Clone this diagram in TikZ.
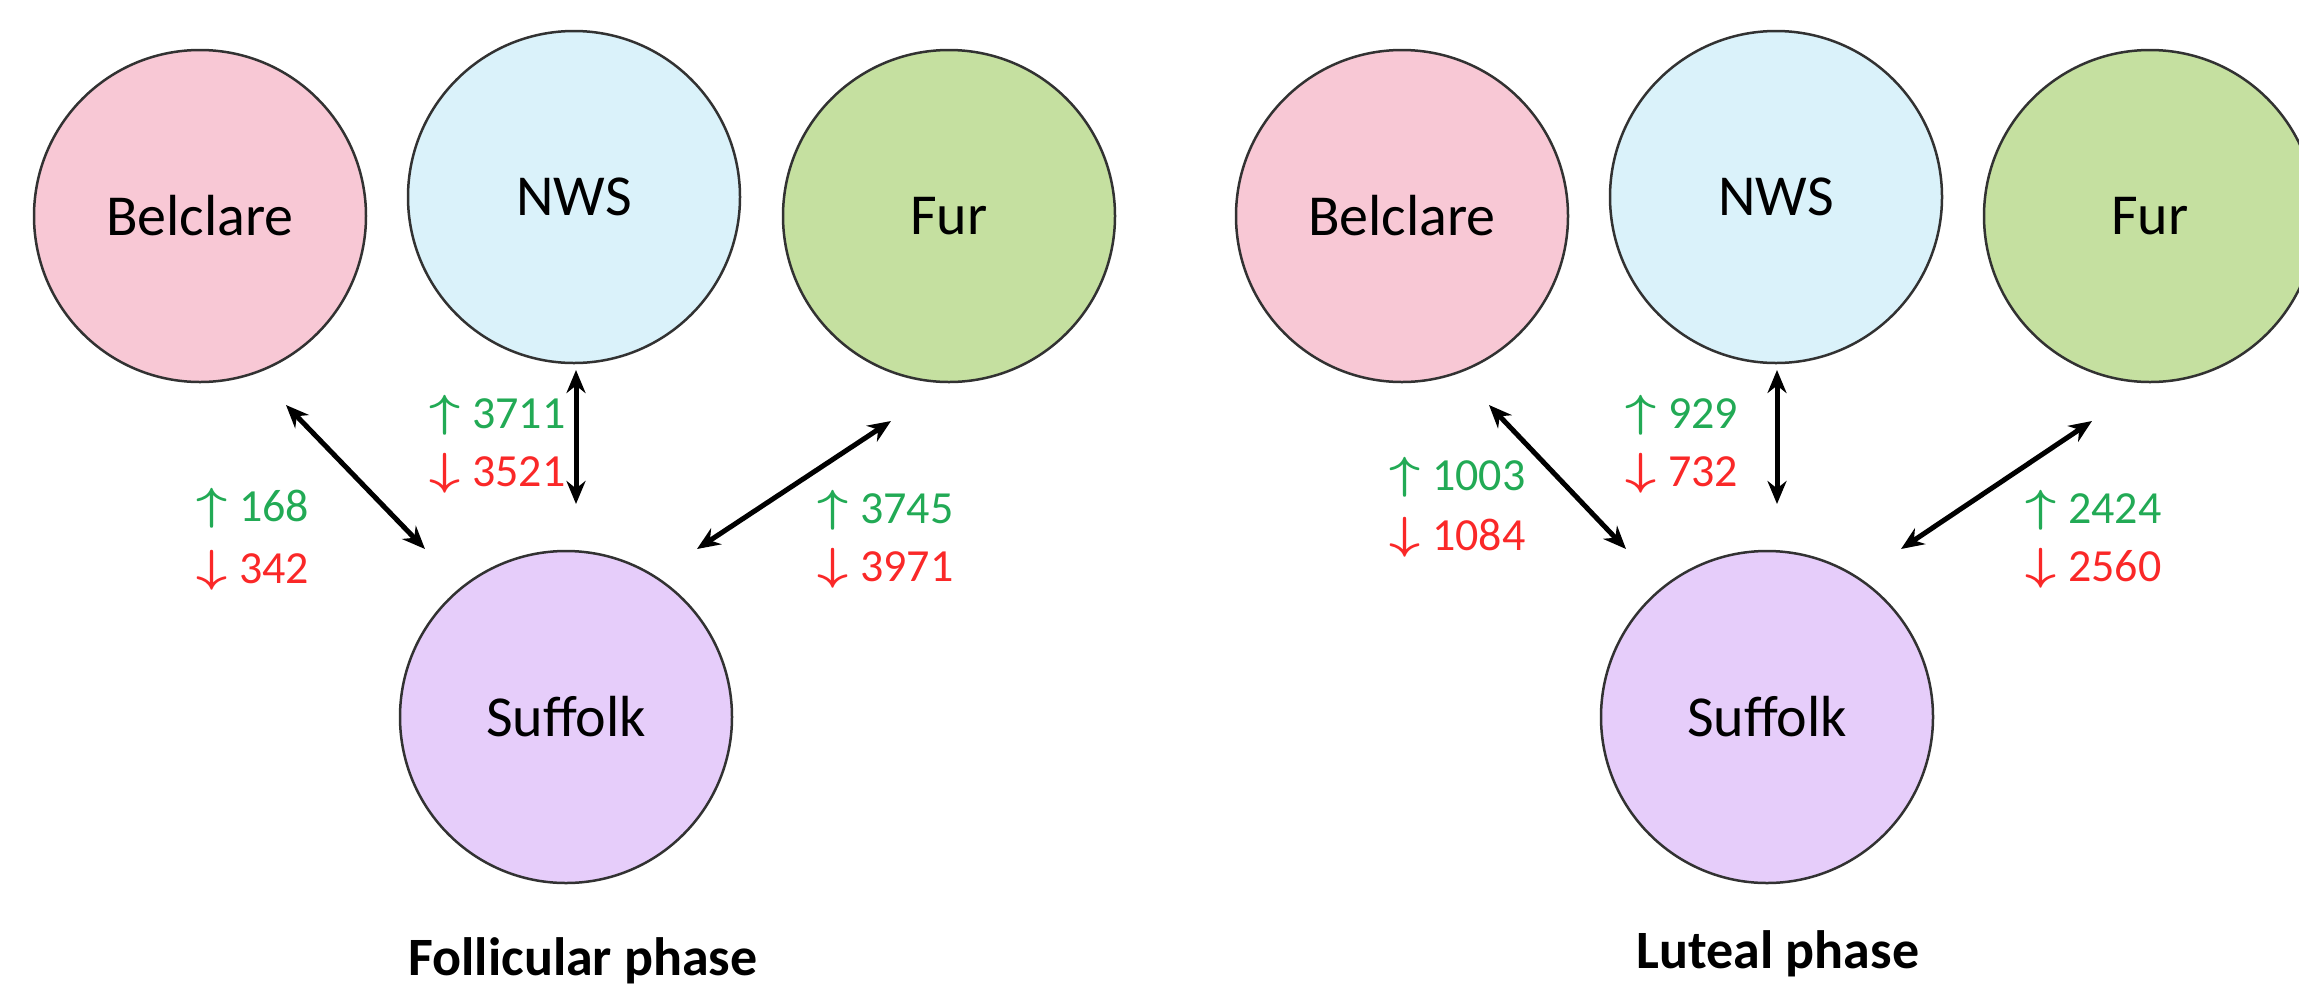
\documentclass[tikz,border=0pt]{standalone}
\usepackage{fontspec}
\setmainfont{Carlito}
\usetikzlibrary{arrows.meta}

\definecolor{belpink}{RGB}{248,200,213}
\definecolor{nwsblue}{RGB}{218,242,250}
\definecolor{furgreen}{RGB}{197,224,160}
\definecolor{sufpurple}{RGB}{230,205,250}
\definecolor{upgreen}{RGB}{34,170,85}
\definecolor{downred}{RGB}{250,40,40}
\definecolor{rim}{RGB}{50,50,50}

\tikzset{
  breed/.style={circle, draw=rim, line width=2.5pt, minimum size=332pt,
    inner sep=0pt, font=\fontsize{58}{60}\selectfont},
  link/.style={line width=5pt, {Stealth[length=23pt,width=19pt]}-{Stealth[length=23pt,width=19pt]}},
  uplab/.style={anchor=west, inner sep=0pt, text=upgreen, font=\fontsize{46}{48}\selectfont},
  downlab/.style={anchor=west, inner sep=0pt, text=downred, font=\fontsize{46}{48}\selectfont},
  phase/.style={anchor=base, inner sep=0pt, font=\fontsize{54}{56}\selectfont\bfseries}
}
% open-headed arrows in front of the counts
\newcommand{\upmark}{\raisebox{2pt}{\resizebox*{31pt}{40pt}{\normalsize\boldmath$\uparrow$}}\hspace{12pt}}
\newcommand{\downmark}{\raisebox{2pt}{\resizebox*{31pt}{40pt}{\normalsize\boldmath$\downarrow$}}\hspace{12pt}}

\begin{document}
\begin{tikzpicture}[x=1pt,y=-1pt]
\useasboundingbox (0,0) rectangle (2299,989);
\begin{scope}
\clip (0,0) rectangle (2299,989);

% ---------- Follicular phase ----------
\node[breed, fill=belpink]   (fbel) at (200,216) {Belclare};
\node[breed, fill=nwsblue]   (fnws) at (574,197) {NWS};
\node[breed, fill=furgreen]  (ffur) at (949,216) {Fur};
\node[breed, fill=sufpurple] (fsuf) at (566,717) {Suffolk};

\coordinate (fa1) at (286,405);  \coordinate (fa2) at (425,549);
\coordinate (fb1) at (576,370);  \coordinate (fb2) at (576,504);
\coordinate (fc1) at (891,421);  \coordinate (fc2) at (697,549);
\draw[link] (fa1) -- (fa2);
\draw[link] (fb1) -- (fb2);
\draw[link] (fc1) -- (fc2);

\node[uplab]   (fu1) at (429,415) {\upmark 3711};
\node[downlab] (fd1) at (429,473) {\downmark 3521};
\node[uplab]   (fu2) at (196,508) {\upmark 168};
\node[downlab] (fd2) at (196,570) {\downmark 342};
\node[uplab]   (fu3) at (817,510) {\upmark 3745};
\node[downlab] (fd3) at (817,568) {\downmark 3971};

\node[phase] (fphase) at (583,975) {Follicular phase};

% ---------- Luteal phase ----------
\node[breed, fill=belpink]   (lbel) at (1402,216) {Belclare};
\node[breed, fill=nwsblue]   (lnws) at (1776,197) {NWS};
\node[breed, fill=furgreen]  (lfur) at (2150,216) {Fur};
\node[breed, fill=sufpurple] (lsuf) at (1767,717) {Suffolk};

\coordinate (la1) at (1489,405); \coordinate (la2) at (1626,549);
\coordinate (lb1) at (1777,370); \coordinate (lb2) at (1777,504);
\coordinate (lc1) at (2092,421); \coordinate (lc2) at (1901,549);
\draw[link] (la1) -- (la2);
\draw[link] (lb1) -- (lb2);
\draw[link] (lc1) -- (lc2);

\node[uplab]   (lu1) at (1625,415) {\upmark 929};
\node[downlab] (ld1) at (1625,473) {\downmark 732};
\node[uplab]   (lu2) at (1389,477) {\upmark 1003};
\node[downlab] (ld2) at (1389,537) {\downmark 1084};
\node[uplab]   (lu3) at (2025,510) {\upmark 2424};
\node[downlab] (ld3) at (2025,568) {\downmark 2560};

\node[phase] (lphase) at (1778,968) {Luteal phase};
\end{scope}
\end{tikzpicture}
\end{document}
